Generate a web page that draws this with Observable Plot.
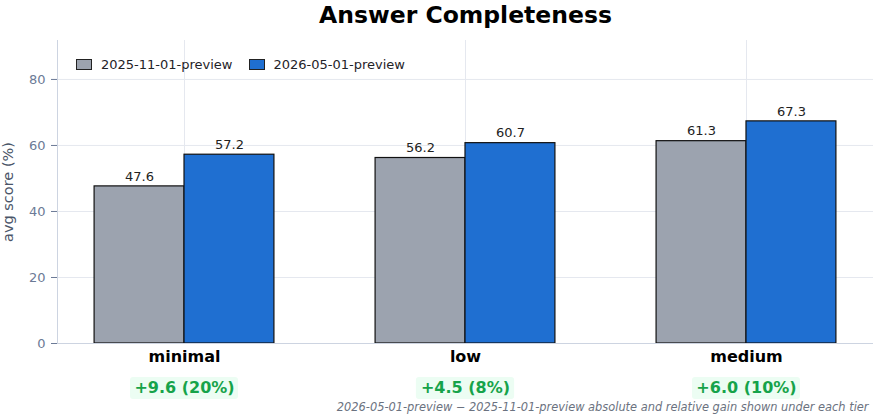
<!DOCTYPE html>
<html>
<head>
<meta charset="utf-8">
<script src="https://cdn.jsdelivr.net/npm/d3@7"></script>
<script src="https://cdn.jsdelivr.net/npm/@observablehq/plot@0.6"></script>
<style>
  html, body { margin: 0; padding: 0; background: #fff; }
  #wrap { position: relative; width: 873px; height: 415px; font-family: "DejaVu Sans", sans-serif; }
  #legend { position: absolute; left: 76px; top: 57px; display: flex; align-items: center; font-size: 13px; color: #1f2328; }
  .sw { width: 14px; height: 9px; border: 1px solid #222; display: inline-block; margin-right: 9px; }
  .item { display: flex; align-items: center; margin-right: 16px; }
</style>
</head>
<body>
<div id="wrap">
  <div id="chart"></div>
  <div id="legend"></div>
</div>
<script>
const title = "Answer Completeness";
const tiers = ["minimal", "low", "medium"];
const seriesNames = ["2025-11-01-preview", "2026-05-01-preview"];
const oldScores = [47.6, 56.2, 61.3];
const newScores = [57.2, 60.7, 67.3];
const gainLabels = ["+9.6 (20%)", "+4.5 (8%)", "+6.0 (10%)"];
const yTicks = [0, 20, 40, 60, 80];
const yLabel = "avg score (%)";
const footnote = "2026-05-01-preview \u2212 2025-11-01-preview absolute and relative gain shown under each tier";

const colors = ["#9ca3af", "#1f6fd1"];
const barW = 0.32;

const bars = [];
tiers.forEach((t, i) => {
  bars.push({tier: t, i, s: 0, v: oldScores[i], x1: i - barW, x2: i});
  bars.push({tier: t, i, s: 1, v: newScores[i], x1: i, x2: i + barW});
});
const tierData = tiers.map((t, i) => ({tier: t, i, gain: gainLabels[i]}));

const gainBoxes = tierData.map(d => {
  const w = d.gain.length * 9.8 + 10;
  return Plot.rect([d], {
    x1: "i", x2: "i", y1: 0, y2: 0,
    insetLeft: -w / 2, insetRight: -w / 2, insetTop: 34, insetBottom: -56,
    fill: "#ecfdf3", rx: 3
  });
});

const chart = Plot.plot({
  width: 873,
  height: 415,
  marginLeft: 57,
  marginRight: 0,
  marginTop: 40,
  marginBottom: 72,
  style: {fontFamily: "DejaVu Sans, sans-serif", background: "#fff"},
  x: {domain: [-0.452, 2.452], axis: null},
  y: {domain: [0, 91.8], axis: null},
  marks: [
    Plot.gridY(yTicks.filter(d => d > 0), {stroke: "#e5e8ef", strokeOpacity: 1, strokeWidth: 1}),
    Plot.gridX(tierData.map(d => d.i), {stroke: "#e5e8ef", strokeOpacity: 1, strokeWidth: 1}),
    Plot.rectY(bars, {
      x1: "x1", x2: "x2", y1: 0, y2: "v",
      fill: d => colors[d.s], stroke: "#111", strokeWidth: 1.2
    }),
    Plot.text(bars, {
      x: d => (d.x1 + d.x2) / 2, y: "v", text: d => d.v.toFixed(1),
      dy: -10, fontSize: 13, fill: "#222"
    }),
    Plot.ruleX([-0.452], {stroke: "#cdd4e1", strokeWidth: 1}),
    Plot.ruleY([0], {stroke: "#cdd4e1", strokeWidth: 1.2}),
    Plot.axisY(yTicks, {
      tickSize: 6, tickPadding: 6, fontSize: 13, color: "#6b7a96",
      stroke: "#6b7a96", label: null, tickFormat: d => String(d)
    }),
    Plot.text([yLabel], {
      frameAnchor: "left", textAnchor: "middle", dx: -49, rotate: -90, fontSize: 14.5, fill: "#4a5568"
    }),
    Plot.text(tierData, {
      x: "i", y: 0, text: "tier", dy: 13, fontSize: 16, fontWeight: "bold", fill: "#000"
    }),
    ...gainBoxes,
    Plot.text(tierData, {
      x: "i", y: 0, text: "gain", dy: 44, fontSize: 16, fontWeight: "bold", fill: "#16a34a"
    }),
    Plot.text([title], {
      frameAnchor: "top", dy: -34, fontSize: 23.5, fontWeight: "bold", fill: "#000"
    }),
    Plot.text([footnote], {
      frameAnchor: "bottom-right", dx: -5, dy: 67, fontSize: 11.4, fontStyle: "italic", fill: "#6b7280"
    })
  ]
});
document.getElementById("chart").appendChild(chart);

const legend = document.getElementById("legend");
seriesNames.forEach((n, k) => {
  const it = document.createElement("div");
  it.className = "item";
  const sw = document.createElement("span");
  sw.className = "sw";
  sw.style.background = colors[k];
  const lab = document.createElement("span");
  lab.textContent = n;
  it.appendChild(sw);
  it.appendChild(lab);
  legend.appendChild(it);
});
</script>
</body>
</html>
